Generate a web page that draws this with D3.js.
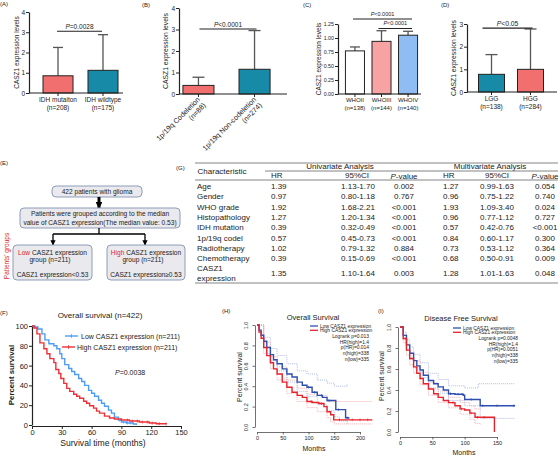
<!DOCTYPE html>
<html><head><meta charset="utf-8">
<script src="https://cdn.jsdelivr.net/npm/d3@7"></script>
<style>body{margin:0;background:#fff}svg{display:block}text{font-family:"Liberation Sans",Arial,Helvetica,sans-serif}</style>
</head><body><svg id="c" width="560" height="456"></svg>
<script>
// ---------------- DATA ----------------
const idhCats = ["IDH mutaiton", "IDH wildtype"];
const idhN = ["(n=208)", "(n=175)"];
const idhMean = [0.85, 1.12];
const idhSD = [1.40, 1.76];

const codelCats = ["1p/19q Codeletion", "1p/19q Non-codeletion"];
const codelN = ["(n=88)", "(n=274)"];
const codelMean = [0.40, 1.15];
const codelSD = [0.38, 1.80];

const whoCats = ["WHOII", "WHOIII", "WHOIV"];
const whoN = ["(n=138)", "(n=144)", "(n=140)"];
const whoMean = [0.77, 0.94, 1.05];
const whoSD = [0.07, 0.19, 0.07];

const gradeCats = ["LGG", "HGG"];
const gradeN = ["(n=138)", "(n=284)"];
const gradeMean = [0.78, 1.00];
const gradeSD = [0.87, 1.78];

const tblRows = ["Age","Gender","WHO grade","Histopathology","IDH mutation","1p/19q codel","Radiotherapy","Chemotherapy","CASZ1 expression"];
const uniHR = ["1.39","0.97","1.92","1.27","0.39","0.57","1.02","0.39","1.35"];
const uniCI = ["1.13-1.70","0.80-1.18","1.68-2.21","1.20-1.34","0.32-0.49","0.45-0.73","0.79-1.32","0.15-0.69","1.10-1.64"];
const uniP = ["0.002","0.767","<0.001","<0.001","<0.001","<0.001","0.884","<0.001","0.003"];
const multiHR = ["1.27","0.96","1.93","0.96","0.57","0.84","0.73","0.68","1.28"];
const multiCI = ["0.99-1.63","0.75-1.22","1.09-3.40","0.77-1.12","0.42-0.76","0.60-1.17","0.53-1.12","0.50-0.91","1.01-1.63"];
const multiP = ["0.054","0.740","0.024","0.727","<0.001","0.300","0.364","0.009","0.048"];

// F: overall survival (n=422), percent
const fLowT = [0,3,6,10,13,17,22,25,28,30,33,37,40,43,47,50,53,57,60,63,67,70,73,77,80,83,87,90,95,102,105];
const fLowS = [100,99,97,92,86,82,80,77,72,67,61,57,54,51,47,44,40,35,32,29,25,22,19,15,12,8,5,3,2,1,0];
const fHighT = [0,2,5,8,12,15,18,22,24,27,29,32,35,38,42,45,48,52,55,58,62,65,68,73,78,83,90,98,108,118,125,135];
const fHighS = [100,98,92,83,77,72,67,63,56,52,47,42,37,34,31,29,27,24,22,19.5,17,14,12,9,7,6,5,4,3,2,1.3,1];
const fLowCens = [88, 92, 96, 99];
const fHighCens = [96, 101, 106, 111, 116, 121, 128, 135];

// H: GEPIA overall survival
const hLowT = [0,4,8,13,19,26,32,39,49,58,68,78,88,97,107,117,127,136,149,153,166,172,178];
const hLowS = [1,0.95,0.90,0.84,0.78,0.71,0.66,0.62,0.57,0.52,0.49,0.44,0.41,0.39,0.34,0.31,0.29,0.26,0.26,0.17,0.17,0.09,0.08];
const hHighT = [0,4,8,13,19,26,32,39,49,58,68,78,88,97,107,120,130,136,143,149,182,224];
const hHighS = [1,0.93,0.87,0.78,0.70,0.63,0.57,0.52,0.44,0.39,0.34,0.31,0.29,0.25,0.24,0.23,0.20,0.15,0.12,0.07,0.07,0.07];
const hLowUpT = [0,13,26,39,58,78,97,117,136,150,160,175];
const hLowUpS = [1,0.88,0.77,0.70,0.62,0.55,0.52,0.46,0.43,0.40,0.40,0.42];
const hLowLoT = [0,13,26,39,58,78,97,117,136,150,160,175];
const hLowLoS = [1,0.78,0.65,0.55,0.44,0.35,0.30,0.22,0.16,0.10,0.06,0.02];
const hHighUpT = [0,13,26,39,58,78,97,117,136,224];
const hHighUpS = [1,0.83,0.69,0.59,0.46,0.38,0.32,0.31,0.25,0.25];
const hHighLoT = [0,13,26,39,58,78,97,117,136,143,150,224];
const hHighLoS = [1,0.72,0.57,0.46,0.33,0.25,0.19,0.15,0.09,0.05,0.03,0.03];
const hLowCens = [100, 112, 125, 140, 158, 175];
const hHighCens = [105, 125, 160, 185, 200, 215];
const hStats = ["Logrank p=0.013", "HR(high)=1.4", "p(HR)=0.014", "n(high)=338", "n(low)=335"];

// I: GEPIA disease free survival
const iLowT = [0,5,10,15,21,26,31,36,44,52,59,67,75,85,98,100,121,124,178];
const iLowS = [1,0.92,0.83,0.75,0.68,0.63,0.59,0.54,0.49,0.46,0.43,0.40,0.365,0.36,0.35,0.31,0.31,0.25,0.25];
const iHighT = [0,5,10,15,21,26,31,36,44,52,59,67,75,85,93,100,108,116,144,146];
const iHighS = [1,0.89,0.78,0.70,0.62,0.56,0.51,0.46,0.41,0.365,0.33,0.30,0.28,0.25,0.22,0.21,0.18,0.14,0.14,0.0];
const iLowUpT = [0,5,10,15,21,31,44,59,75,100,121,178];
const iLowUpS = [1,0.95,0.88,0.81,0.74,0.66,0.56,0.50,0.44,0.42,0.46,0.46];
const iLowLoT = [0,5,10,15,21,31,44,59,75,100,124,178];
const iLowLoS = [1,0.88,0.78,0.69,0.61,0.52,0.42,0.37,0.30,0.25,0.13,0.13];
const iHighUpT = [0,5,10,15,21,31,44,59,75,93,108,116,125];
const iHighUpS = [1,0.93,0.83,0.75,0.68,0.57,0.47,0.39,0.33,0.28,0.25,0.22,0.22];
const iHighLoT = [0,5,10,15,21,31,44,59,75,93,108,116,125];
const iHighLoS = [1,0.85,0.73,0.64,0.56,0.45,0.35,0.28,0.23,0.17,0.12,0.08,0.07];
const iLowCens = [78, 90, 96, 110, 128, 150, 176];
const iHighCens = [82, 95, 110, 120, 130];
const iStats = ["Logrank p=0.0048", "HR(high)=1.4", "p(HR)=0.0051", "n(high)=338", "n(low)=335"];

// ---------------- DRAW ----------------
const svg = d3.select("#c");
const TXT = "#222";
const SALMON = "#F26F6F", TEAL = "#168AA6", PINK = "#F7A3A3", LBLUE = "#8FBDF3";

function label(x, y, s, size, opt = {}) {
  return svg.append("text").attr("x", x).attr("y", y).text(s)
    .attr("font-size", size).attr("fill", opt.fill || TXT)
    .attr("text-anchor", opt.anchor || "start")
    .attr("dominant-baseline", "central")
    .attr("font-weight", opt.weight || "normal");
}
function rotLabel(x, y, s, size, opt = {}) {
  return svg.append("text").attr("transform", `translate(${x},${y}) rotate(-90)`).text(s)
    .attr("font-size", size).attr("fill", opt.fill || TXT).attr("text-anchor", "middle")
    .attr("dominant-baseline", "central").attr("font-weight", opt.weight || "normal");
}
function pText(x, y, rest, size, anchor) {
  const t = svg.append("text").attr("x", x).attr("y", y).attr("font-size", size)
    .attr("fill", TXT).attr("text-anchor", anchor || "middle").attr("dominant-baseline", "central");
  t.append("tspan").attr("font-style", "italic").text("P");
  t.append("tspan").text(rest);
  return t;
}

// Panel labels
[["(A)",0,4],["(B)",142,5],["(C)",303,5],["(D)",441,5],["(E)",0,163],["(F)",0,313],["(G)",176,168],["(H)",222,311],["(I)",378,311]]
  .forEach(d => label(d[1], d[2], d[0], 6));

function barPanel(c) {
  const g = svg.append("g");
  const x = d3.scaleBand().domain(c.cats).range(c.xr).paddingInner(c.pi).paddingOuter(c.po);
  const y = d3.scaleLinear().domain([0, c.ymax]).range(c.yr);
  c.cats.forEach((d, i) => {
    const cx = x(d) + x.bandwidth() / 2;
    g.append("line").attr("x1", cx).attr("x2", cx).attr("y1", y(c.mean[i])).attr("y2", y(c.mean[i] + c.sd[i]))
      .attr("stroke", "#555").attr("stroke-width", 1.3);
    g.append("line").attr("x1", cx - c.cap).attr("x2", cx + c.cap).attr("y1", y(c.mean[i] + c.sd[i])).attr("y2", y(c.mean[i] + c.sd[i]))
      .attr("stroke", "#555").attr("stroke-width", 1.3);
  });
  g.selectAll("rect.b").data(c.cats).join("rect").attr("class", "b")
    .attr("x", d => x(d)).attr("width", x.bandwidth())
    .attr("y", (d, i) => y(c.mean[i])).attr("height", (d, i) => y(0) - y(c.mean[i]))
    .attr("fill", (d, i) => c.colors[i]).attr("stroke", "#222").attr("stroke-width", 1);
  const ya = g.append("g").attr("transform", `translate(${c.ax},0)`)
    .call(d3.axisLeft(y).tickValues(c.yticks).tickFormat(c.fmt).tickSize(3).tickSizeOuter(0));
  ya.select(".domain").attr("stroke", "#222").attr("stroke-width", 1.2);
  ya.selectAll(".tick line").attr("stroke", "#222");
  ya.selectAll(".tick text").attr("font-size", c.tfs).attr("fill", TXT).attr("x", -4);
  ya.attr("font-family", null);
  g.append("line").attr("x1", c.ax).attr("x2", c.xEnd).attr("y1", y(0)).attr("y2", y(0)).attr("stroke", "#222").attr("stroke-width", 1.2);
  c.cats.forEach((d, i) => {
    const cx = x(d) + x.bandwidth() / 2;
    g.append("line").attr("x1", cx).attr("x2", cx).attr("y1", y(0)).attr("y2", y(0) + 3).attr("stroke", "#222");
    if (c.rot) {
      const t = g.append("text").attr("transform", `translate(${cx + 2},${y(0) + 6}) rotate(-45)`)
        .attr("text-anchor", "end").attr("font-size", c.lfs).attr("fill", TXT);
      t.append("tspan").attr("x", 0).attr("dy", 0).text(d);
      t.append("tspan").attr("x", 0).attr("dy", "1.15em").text(c.n[i]);
    } else {
      label(cx, y(0) + 6, d, c.lfs, { anchor: "middle" });
      label(cx, y(0) + 14, c.n[i], c.lfs, { anchor: "middle" });
    }
  });
  rotLabel(c.ylx, (c.yr[0] + c.yr[1]) / 2, "CASZ1 expression levels", c.ylfs);
  c.sig.forEach(s => {
    const x1 = x(c.cats[s.a]) + x.bandwidth() / 2 + (s.ea || 0), x2 = x(c.cats[s.b]) + x.bandwidth() / 2 + (s.eb || 0);
    g.append("line").attr("x1", x1).attr("x2", x2).attr("y1", y(s.v)).attr("y2", y(s.v)).attr("stroke", "#222").attr("stroke-width", 1.1);
    pText((x1 + x2) / 2, y(s.v) - 5, s.t, c.sfs);
  });
  return { x, y };
}

barPanel({ cats: idhCats, n: idhN, mean: idhMean, sd: idhSD, colors: [SALMON, TEAL],
  xr: [29.5, 131.5], pi: 0.333, po: 0.3, ymax: 4, yr: [93, 12], yticks: [0,1,2,3,4], fmt: d3.format("d"),
  ax: 29, xEnd: 123, cap: 5, tfs: 6.5, lfs: 6.5, ylx: 16, ylfs: 6.5, sfs: 6.5,
  sig: [{ a: 0, b: 1, v: 3.05, t: "=0.0028", ea: -1, eb: -1 }] });

barPanel({ cats: codelCats, n: codelN, mean: codelMean, sd: codelSD, colors: [SALMON, TEAL],
  xr: [179, 274], pi: 0.446, po: 0.07, ymax: 4, yr: [94, 8], yticks: [0,1,2,3,4], fmt: d3.format("d"),
  ax: 179, xEnd: 287, cap: 6, tfs: 6.5, lfs: 7.2, ylx: 165, ylfs: 6.8, sfs: 6.5, rot: true,
  sig: [{ a: 0, b: 1, v: 3.02, t: "<0.0001", ea: 1, eb: 2 }] });

barPanel({ cats: whoCats, n: whoN, mean: whoMean, sd: whoSD, colors: ["#fff", PINK, LBLUE],
  xr: [338, 425], pi: 0.283, po: 0.28, ymax: 1.25, yr: [94, 24], yticks: [0,0.25,0.5,0.75,1,1.25], fmt: d3.format(".2f"),
  ax: 338, xEnd: 421, cap: 5, tfs: 5.3, lfs: 6, ylx: 318, ylfs: 6.5, sfs: 5.5,
  sig: [{ a: 0, b: 2, v: 1.34, t: "<0.0001", ea: -2, eb: 4 }, { a: 1, b: 2, v: 1.17, t: "<0.0001", ea: -3, eb: 4 }] });

barPanel({ cats: gradeCats, n: gradeN, mean: gradeMean, sd: gradeSD, colors: [TEAL, SALMON],
  xr: [467, 555], pi: 0.333, po: 0.295, ymax: 3, yr: [92, 24], yticks: [0,1,2,3], fmt: d3.format("d"),
  ax: 467, xEnd: 557, cap: 6, tfs: 6.5, lfs: 6.5, ylx: 453, ylfs: 6.8, sfs: 6.8,
  sig: [{ a: 0, b: 1, v: 2.82, t: "<0.05", ea: -9, eb: 2 }] });

// ---------------- E: flowchart ----------------
const defs = svg.append("defs");
defs.append("marker").attr("id", "ah").attr("viewBox", "0 0 10 10").attr("refX", 9).attr("refY", 5)
  .attr("markerWidth", 4).attr("markerHeight", 4).attr("orient", "auto")
  .append("path").attr("d", "M0,0L10,5L0,10z").attr("fill", "#000");
defs.append("marker").attr("id", "ah2").attr("viewBox", "0 0 10 10").attr("refX", 9).attr("refY", 5)
  .attr("markerWidth", 2.2).attr("markerHeight", 2.2).attr("orient", "auto")
  .append("path").attr("d", "M0,0L10,5L0,10z").attr("fill", "#000");
function box(x, y, w, h) {
  svg.append("rect").attr("x", x).attr("y", y).attr("width", w).attr("height", h).attr("rx", 4)
    .attr("fill", "#E9E9EE").attr("stroke", "#8E9CB8").attr("stroke-width", 1);
}
box(52, 186, 90, 11);
label(97, 191.8, "422 patients with glioma", 6.6, { anchor: "middle" });
svg.append("line").attr("x1", 99).attr("x2", 99).attr("y1", 197).attr("y2", 208).attr("stroke", "#000").attr("stroke-width", 3).attr("marker-end", "url(#ah2)");
box(20, 208, 160, 20);
label(100, 213.5, "Patients were grouped according to the median", 6.6, { anchor: "middle" });
label(100, 222, "value of CASZ1 expression(The median value: 0.53)", 6.6, { anchor: "middle" });
svg.append("path").attr("d", "M99,228V234").attr("stroke", "#000").attr("stroke-width", 1.3).attr("fill", "none");
svg.append("path").attr("d", "M53,234H145").attr("stroke", "#000").attr("stroke-width", 1.3);
svg.append("line").attr("x1", 53).attr("x2", 53).attr("y1", 234).attr("y2", 245).attr("stroke", "#000").attr("stroke-width", 1.3).attr("marker-end", "url(#ah)");
svg.append("line").attr("x1", 145).attr("x2", 145).attr("y1", 234).attr("y2", 245).attr("stroke", "#000").attr("stroke-width", 1.3).attr("marker-end", "url(#ah)");
box(13, 245, 79, 35);
box(107, 245, 78, 35);
function grpText(cx, word) {
  const t = svg.append("text").attr("x", cx).attr("y", 252).attr("font-size", 6.6).attr("text-anchor", "middle").attr("dominant-baseline", "central").attr("fill", TXT);
  t.append("tspan").attr("fill", "#E02828").text(word);
  t.append("tspan").text(" CASZ1 expression");
}
grpText(52.5, "Low");
label(50, 259.5, "group (n=211)", 6.6, { anchor: "middle" });
label(52.5, 274, "CASZ1 expression<0.53", 6.6, { anchor: "middle" });
grpText(146, "High");
label(143, 259.5, "group (n=211)", 6.6, { anchor: "middle" });
label(146, 274, "CASZ1 expression\u22650.53", 6.6, { anchor: "middle" });
rotLabel(6, 256, "Patients' groups", 6.5, { fill: "#E02828" });

// ---------------- G: table ----------------
const tl = (x1, x2, y) => svg.append("line").attr("x1", x1).attr("x2", x2).attr("y1", y).attr("y2", y).attr("stroke", "#777").attr("stroke-width", 0.9);
tl(195, 558, 163); tl(265, 558, 171); tl(195, 558, 180); tl(195, 558, 283);
const TFS = 8;
label(222, 171.5, "Characteristic", TFS, { anchor: "middle" });
label(340, 166.8, "Univariate Analysis", TFS, { anchor: "middle" });
label(490, 166.8, "Multivariate Analysis", TFS, { anchor: "middle" });
label(271, 175.8, "HR", TFS);
label(357, 175.8, "95%CI", TFS, { anchor: "middle" });
pText(404, 175.8, "-value", TFS);
label(443, 175.8, "HR", TFS);
label(497, 175.8, "95%CI", TFS, { anchor: "middle" });
pText(545, 175.8, "-value", TFS);
const rowY = i => i < 8 ? 186.5 + i * 10.3 : 273;
tblRows.forEach((r, i) => {
  const yy = rowY(i);
  if (i === 8) { label(197, yy - 5, "CASZ1", TFS); label(197, yy + 5, "expression", TFS); }
  else label(197, yy, r, TFS);
  label(271, yy, uniHR[i], TFS);
  label(358, yy, uniCI[i], TFS, { anchor: "middle" });
  label(404, yy, uniP[i], TFS, { anchor: "middle" });
  label(443, yy, multiHR[i], TFS);
  label(497, yy, multiCI[i], TFS, { anchor: "middle" });
  label(545, yy, multiP[i], TFS, { anchor: "middle" });
});

// ---------------- Survival helpers ----------------
function stepVal(T, S, t) { const i = d3.bisectRight(T, t) - 1; return S[Math.max(0, i)]; }
function kmLine(x, y, T, S, color, w, dash) {
  const pts = T.map((t, i) => [x(t), y(S[i])]);
  const p = svg.append("path").attr("d", d3.line().curve(d3.curveStepAfter)(pts))
    .attr("fill", "none").attr("stroke", color).attr("stroke-width", w);
  if (dash) p.attr("stroke-dasharray", dash);
}
function cens(x, y, T, S, C, color, h, w) {
  C.forEach(t => svg.append("line").attr("x1", x(t)).attr("x2", x(t)).attr("y1", y(stepVal(T, S, t)) - h).attr("y2", y(stepVal(T, S, t)) + h)
    .attr("stroke", color).attr("stroke-width", w || 0.8));
}

// ---------------- F ----------------
{
  const x = d3.scaleLinear().domain([0, 150]).range([32, 181]);
  const y = d3.scaleLinear().domain([0, 100]).range([425, 326]);
  const BLUE = "#4C9DF5", RED = "#EE2F36";
  label(100, 315, "Overall survival (n=422)", 8, { anchor: "middle" });
  const ya = svg.append("g").attr("transform", "translate(32,0)").call(d3.axisLeft(y).tickValues([0,20,40,60,80,100]).tickSize(3).tickSizeOuter(0));
  const xa = svg.append("g").attr("transform", "translate(0,426)").call(d3.axisBottom(x).tickValues([0,30,60,90,120,150]).tickSize(3).tickSizeOuter(0));
  [ya, xa].forEach(a => { a.select(".domain").attr("stroke", "#222").attr("stroke-width", 1.2); a.selectAll(".tick line").attr("stroke", "#222"); a.selectAll(".tick text").attr("font-size", 7.5).attr("fill", TXT); a.attr("font-family", null); });
  ya.selectAll(".tick text").attr("x", -4);
  xa.selectAll(".tick text").attr("y", 4);
  rotLabel(11, 375, "Percent survival", 7.8, { weight: "bold" });
  label(103, 443, "Survival time (months)", 8.6, { anchor: "middle" });
  kmLine(x, y, fLowT, fLowS, BLUE, 1.4);
  kmLine(x, y, fHighT, fHighS, RED, 1.4);
  cens(x, y, fLowT, fLowS, fLowCens, BLUE, 1.5);
  cens(x, y, fHighT, fHighS, fHighCens, RED, 1.5);
  svg.append("line").attr("x1", 65).attr("x2", 78).attr("y1", 336).attr("y2", 336).attr("stroke", BLUE).attr("stroke-width", 1.4);
  svg.append("line").attr("x1", 71.5).attr("x2", 71.5).attr("y1", 334.3).attr("y2", 337.7).attr("stroke", BLUE);
  label(81, 336, "Low CASZ1 expression (n=211)", 7);
  svg.append("line").attr("x1", 62).attr("x2", 75).attr("y1", 347).attr("y2", 347).attr("stroke", RED).attr("stroke-width", 1.4);
  svg.append("line").attr("x1", 68.5).attr("x2", 68.5).attr("y1", 345.3).attr("y2", 348.7).attr("stroke", RED);
  label(77, 347, "High CASZ1 expression (n=211)", 7);
  pText(115, 372, "=0.0038", 7, "start");
}

// ---------------- H & I (GEPIA style) ----------------
function gepia(c) {
  const x = d3.scaleLinear().domain([0, c.xmax]).range(c.xr);
  const y = d3.scaleLinear().domain([0, 1]).range(c.yr);
  const BLUE = "#2E4FB0", RED = "#E8222A", LB = "#9AACE2", LR = "#F3A0A3";
  label(c.tx, c.ty, c.title, 7.5, { anchor: "middle" });
  const ya = svg.append("g").attr("transform", `translate(${c.xr[0] - 2},0)`).call(d3.axisLeft(y).tickValues([0,0.2,0.4,0.6,0.8,1]).tickFormat(d3.format(".1f")).tickSize(2.5).tickSizeOuter(0));
  const xa = svg.append("g").attr("transform", `translate(0,${c.yr[0] + 5})`).call(d3.axisBottom(x).tickValues(c.xticks).tickSize(2.5).tickSizeOuter(0));
  [ya, xa].forEach(a => { a.select(".domain").attr("stroke", "#333").attr("stroke-width", 0.7); a.selectAll(".tick line").attr("stroke", "#333").attr("stroke-width", 0.7); a.selectAll(".tick text").attr("font-size", 5.5).attr("fill", TXT); a.attr("font-family", null); });
  ya.selectAll(".tick text").attr("x", null).attr("dy", null).attr("text-anchor", "middle")
    .attr("transform", "translate(-7,0) rotate(-90)");
  xa.selectAll(".tick text").attr("y", 4);
  label(c.mx, c.my, "Months", 7, { anchor: "middle" });
  rotLabel(c.px, c.py, "Percent survival", 7);
  kmLine(x, y, c.lut, c.lus, LB, 0.8, "1,1");
  kmLine(x, y, c.llt, c.lls, LB, 0.8, "1,1");
  kmLine(x, y, c.hut, c.hus, LR, 0.8, "1,1");
  kmLine(x, y, c.hlt, c.hls, LR, 0.8, "1,1");
  kmLine(x, y, c.lt, c.ls, BLUE, 1.4);
  kmLine(x, y, c.ht, c.hs, RED, 1.4);
  cens(x, y, c.lt, c.ls, c.lc, BLUE, 1.3, 0.7);
  cens(x, y, c.ht, c.hs, c.hc, RED, 1.3, 0.7);
  svg.append("line").attr("x1", c.lgx).attr("x2", c.lgx + 8).attr("y1", c.lgy).attr("y2", c.lgy).attr("stroke", BLUE).attr("stroke-width", 1.3);
  svg.append("line").attr("x1", c.lgx).attr("x2", c.lgx + 8).attr("y1", c.lgy + 4.3).attr("y2", c.lgy + 4.3).attr("stroke", RED).attr("stroke-width", 1.3);
  label(c.lgx + 10, c.lgy, "Low CASZ1 expression", 4.9);
  label(c.lgx + 10, c.lgy + 4.3, "High CASZ1 expression", 4.9);
  c.stats.forEach((s, i) => label(c.sx, c.lgy + 10.5 + i * 5.7, s, 4.9, { anchor: "end" }));
}
gepia({ xmax: 200, xr: [257, 360], yr: [427, 325], xticks: [0,50,100,150,200], title: "Overall Survival", tx: 313, ty: 317,
  mx: 314, my: 448, px: 239, py: 377,
  lt: hLowT, ls: hLowS, ht: hHighT, hs: hHighS, lut: hLowUpT, lus: hLowUpS, llt: hLowLoT, lls: hLowLoS,
  hut: hHighUpT, hus: hHighUpS, hlt: hHighLoT, hls: hHighLoS, lc: hLowCens, hc: hHighCens,
  lgx: 310, lgy: 326, sx: 369, stats: hStats });
gepia({ xmax: 150, xr: [400, 497], yr: [432, 327], xticks: [0,50,100,150], title: "Disease Free Survival", tx: 461, ty: 318,
  mx: 464, my: 452, px: 381, py: 376,
  lt: iLowT, ls: iLowS, ht: iHighT, hs: iHighS, lut: iLowUpT, lus: iLowUpS, llt: iLowLoT, lls: iLowLoS,
  hut: iHighUpT, hus: iHighUpS, hlt: iHighLoT, hls: iHighLoS, lc: iLowCens, hc: iHighCens,
  lgx: 453, lgy: 328, sx: 518, stats: iStats });
</script></body></html>
